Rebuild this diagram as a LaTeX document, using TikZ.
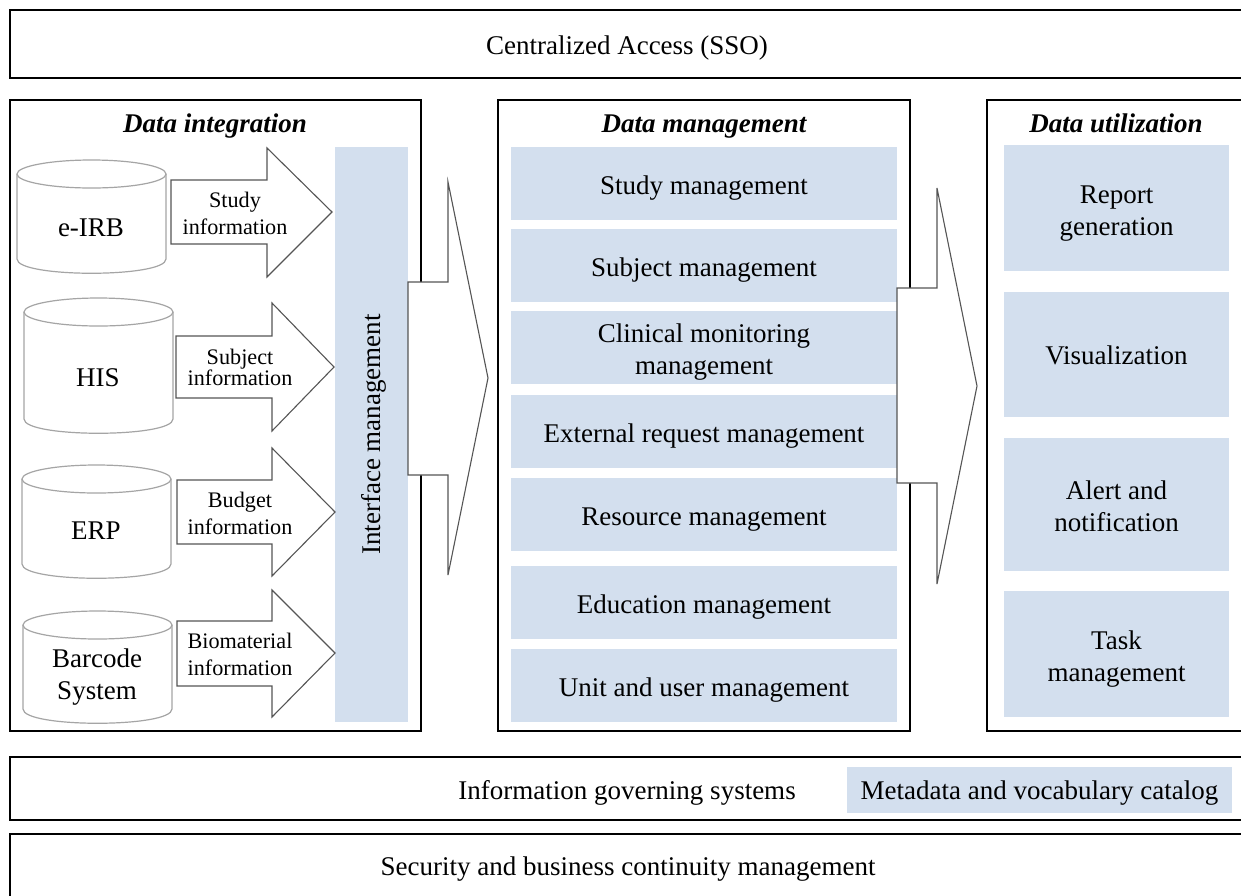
\documentclass[tikz,border=0pt]{standalone}
\usepackage{fontspec}
\setmainfont{Liberation Serif}
\definecolor{itemblue}{RGB}{211,223,238}
\definecolor{cylgrey}{RGB}{165,165,165}
\definecolor{arrgrey}{RGB}{85,85,85}
\newcommand\dbcyl[5]{% name, x1, x2, ytop, ybot
  \pgfmathsetmacro\cx{(#2+#3)/2}
  \pgfmathsetmacro\rx{(#3-#2)/2}
  \draw[cyl] (#2,#4+14) -- (#2,#5-14) .. controls (#2,#5+5) and (#3,#5+5) .. (#3,#5-14) -- (#3,#4+14);
  \draw[cyl] (\cx,#4+14) ellipse [x radius=\rx, y radius=14];
  \coordinate (#1) at (\cx,{(#4+#5)/2});
}
\begin{document}
\begin{tikzpicture}[x=0.5pt,y=-0.5pt,
  outer/.style={draw=black, line width=1.1pt},
  item/.style={fill=itemblue, inner sep=0pt},
  itemtext/.style={font=\fontsize{13.5}{16}\selectfont, align=center, inner sep=0pt},
  boxtitle/.style={font=\fontsize{13.5}{16}\selectfont\bfseries\itshape, inner sep=0pt},
  lbl/.style={font=\fontsize{13.5}{16}\selectfont, align=center, inner sep=0pt},
  small/.style={font=\fontsize{11.1}{13.5}\selectfont, align=center, inner sep=0pt},
  cyl/.style={draw=cylgrey, line width=0.6pt},
  blockarrow/.style={draw=arrgrey, line width=0.55pt, fill=white, line join=miter},
]
\useasboundingbox (0,0) rectangle (1241,895);
\fill[white] (0,0) rectangle (1241,895);

% outer boxes
\draw[outer] (10,10) rectangle (1246,78);
\node[lbl] (sso) at (627,48) {Centralized Access (SSO)};
\draw[outer] (10,100) rectangle (421,731);
\draw[outer] (498,100) rectangle (910,731);
\draw[outer] (987,100) rectangle (1246,731);
\draw[outer] (10,757) rectangle (1246,820);
\draw[outer] (10,834) rectangle (1246,900);

\node[boxtitle] (tint) at (215,126) {Data integration};
\node[boxtitle] (tman) at (704,127) {Data management};
\node[boxtitle] (tuti) at (1116,123) {Data utilization};

% interface bar
\node[item, minimum width=36.5pt, minimum height=287.5pt] (iface) at (371.5,434.5) {};
\node[itemtext, rotate=90] (iface-t) at ([xshift=1pt]iface.center) {Interface management};

% data management items
\foreach \n/\y/\t in {sm/183.5/{Study management},
                      subm/265.5/{Subject management},
                      cm/347.5/{Clinical monitoring\\management},
                      erm/431.5/{External request management},
                      rm/514.5/{Resource management},
                      em/602.5/{Education management},
                      uum/685.5/{Unit and user management}}
{
  \node[item, minimum width=193pt, minimum height=36.5pt] (\n) at (704,\y) {};
  \node[itemtext] (\n-t) at ([yshift=-2.5pt]\n.center) {\t};
}

% data utilization items
\node[item, minimum width=112.5pt, minimum height=63pt] (rg) at (1116.5,208) {};
\node[itemtext] (rg-t) at ([yshift=-3pt]rg.center) {Report\\generation};
\node[item, minimum width=112.5pt, minimum height=62.5pt] (vis) at (1116.5,354.5) {};
\node[itemtext] (vis-t) at ([yshift=-0.5pt]vis.center) {Visualization};
\node[item, minimum width=112.5pt, minimum height=66.5pt] (an) at (1116.5,504.5) {};
\node[itemtext] (an-t) at ([yshift=-1pt]an.center) {Alert and\\notification};
\node[item, minimum width=112.5pt, minimum height=63pt] (tm) at (1116.5,654) {};
\node[itemtext] (tm-t) at ([yshift=-2.5pt]tm.center) {Task\\management};

% governing
\node[lbl] (igs) at (627,793) {Information governing systems};
\node[item, minimum width=192.5pt, minimum height=23pt] (mvc) at (1039.5,790) {};
\node[itemtext] (mvc-t) at ([yshift=-1.5pt]mvc.center) {Metadata and vocabulary catalog};
\node[lbl] (sbc) at (628,869) {Security and business continuity management};

% cylinders
\dbcyl{c1}{17}{166}{160}{273}
\dbcyl{c2}{24}{173}{298}{433}
\dbcyl{c3}{22}{171}{465}{578}
\dbcyl{c4}{23}{172}{611}{723}
\node[lbl] (eirb) at (91,228) {e-IRB};
\node[lbl] (his) at (98,378) {HIS};
\node[lbl] (erp) at (96,531) {ERP};
\node[lbl] (bar) at (97,677) {Barcode\\System};

% small block arrows
\draw[blockarrow] (171,180) -- (267,180) -- (267,148) -- (332,212) -- (267,277) -- (267,244) -- (171,244) -- cycle;
\draw[blockarrow] (176,336) -- (272,336) -- (272,303) -- (334,367) -- (272,431) -- (272,398) -- (176,398) -- cycle;
\draw[blockarrow] (177,480) -- (272,480) -- (272,448) -- (335,512) -- (272,576) -- (272,544) -- (177,544) -- cycle;
\draw[blockarrow] (177,621) -- (272,621) -- (272,590) -- (335,653) -- (272,717) -- (272,686) -- (177,686) -- cycle;
\node[small] (a1) at (235,213) {Study\\information};
\node[small, font=\fontsize{11.1}{10.5}\selectfont] (a2) at (240,367) {Subject\\information};
\node[small] (a3) at (240,513) {Budget\\information};
\node[small] (a4) at (240,654) {Biomaterial\\information};

% big block arrows
\draw[blockarrow] (408,282) -- (448,282) -- (448,182) -- (488,378) -- (448,575) -- (448,475) -- (408,475) -- cycle;
\draw[blockarrow] (897,288) -- (937,288) -- (937,188) -- (977,386) -- (937,584) -- (937,483) -- (897,483) -- cycle;
\end{tikzpicture}
\end{document}
